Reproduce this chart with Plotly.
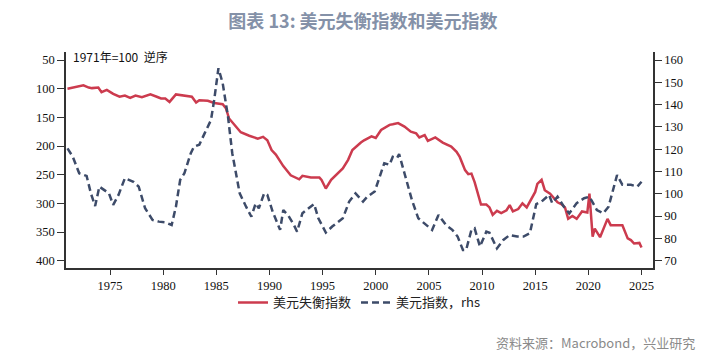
import plotly.graph_objects as go

red_years = [1971.0, 1971.5, 1972.0, 1972.5, 1973.0, 1973.3, 1973.9, 1974.2, 1974.7, 1975.3, 1975.9,
             1976.4, 1976.9, 1977.4, 1978.0, 1978.8, 1979.4, 1979.8, 1980.2, 1980.6, 1981.2, 1982.1,
             1982.7, 1983.1, 1983.4, 1984.2, 1984.8, 1985.6, 1985.9, 1986.2, 1986.7, 1987.3, 1988.1,
             1988.9, 1989.4, 1989.8, 1990.2, 1990.6, 1991.3, 1992.0, 1992.8, 1993.1, 1993.9, 1994.7,
             1994.9, 1995.3, 1995.8, 1996.4, 1996.9, 1997.4, 1997.8, 1998.6, 1998.9, 1999.6, 2000.0,
             2000.5, 2001.0, 2001.3, 2001.6, 2002.1, 2002.7, 2003.3, 2003.8, 2004.1, 2004.6, 2004.9,
             2005.6, 2006.3, 2007.1, 2007.6, 2007.9, 2008.4, 2008.7, 2009.0, 2009.3, 2009.9, 2010.4,
             2010.7, 2011.0, 2011.4, 2011.8, 2012.3, 2012.6, 2012.9, 2013.4, 2013.8, 2014.2, 2014.7,
             2015.0, 2015.2, 2015.6, 2015.9, 2016.4, 2017.1, 2017.5, 2017.8, 2018.1, 2018.5, 2018.9,
             2019.4, 2019.9, 2020.1, 2020.4, 2020.6, 2021.1, 2021.8, 2022.1, 2022.6, 2023.2, 2023.7,
             2024.0, 2024.3, 2024.8, 2025.0]
red_values = [100, 98, 97, 94, 98, 99, 98, 106, 102, 109, 114,
              112, 116, 112, 115, 110, 114, 117, 117, 123, 110, 113,
              114, 124, 120, 121, 125, 127, 134, 152, 163, 176, 182,
              187, 184, 190, 207, 215, 235, 251, 258, 252, 255, 255,
              259, 274, 259, 248, 239, 224, 207, 194, 190, 183, 186,
              172, 166, 163, 162, 160, 166, 175, 178, 185, 181, 191,
              185, 194, 201, 210, 219, 242, 249, 248, 263, 302, 302,
              307, 320, 313, 317, 312, 303, 314, 310, 300, 307, 290,
              280, 266, 259, 277, 283, 298, 302, 307, 327, 322, 327,
              314, 316, 283, 358, 344, 359, 327, 338, 338, 338, 361,
              364, 370, 369, 377]

blue_years = [1971.0, 1971.5, 1972.1, 1972.8, 1973.2, 1973.6, 1974.0, 1974.5, 1974.9, 1975.3, 1975.8,
              1976.4, 1977.2, 1977.7, 1978.3, 1979.0, 1979.6, 1980.2, 1980.8, 1981.2, 1981.6, 1982.0,
              1982.6, 1982.9, 1983.4, 1983.9, 1984.5, 1984.8, 1985.2, 1985.6, 1986.1, 1986.5, 1987.2,
              1987.8, 1988.3, 1988.7, 1989.0, 1989.5, 1989.8, 1990.3, 1990.7, 1991.0, 1991.3, 1991.8,
              1992.3, 1992.6, 1993.1, 1993.5, 1994.2, 1994.6, 1995.3, 1995.9, 1996.9, 1997.5, 1998.1,
              1998.8, 1999.2, 1999.9, 2000.3, 2000.8, 2001.3, 2001.6, 2002.0, 2002.2, 2002.7, 2003.4,
              2004.0, 2004.6, 2005.3, 2005.9, 2006.6, 2007.2, 2007.7, 2008.2, 2008.5, 2009.0, 2009.3,
              2009.8, 2010.4, 2010.7, 2011.4, 2012.0, 2012.6, 2013.3, 2013.9, 2014.5, 2015.1, 2015.6,
              2016.3, 2016.6, 2017.1, 2017.7, 2018.2, 2018.9, 2019.6, 2020.1, 2020.8, 2021.4, 2021.9,
              2022.7, 2023.2, 2024.0, 2024.6, 2025.0]
blue_values = [120.4, 116.6, 109.2, 108.0, 100.2, 94.5, 103.2, 101.7, 100.2, 95.0, 99.5,
               107.0, 105.4, 103.2, 93.5, 88.3, 87.5, 87.2, 86.0, 94.2, 106.2, 109.2,
               118.2, 121.1, 122.0, 127.1, 133.1, 142.1, 156.3, 149.6, 134.6, 118.2, 100.2,
               94.2, 89.7, 95.7, 93.5, 100.2, 99.5, 92.0, 86.8, 83.8, 92.7, 90.0,
               86.0, 83.0, 91.3, 92.7, 95.4, 89.0, 82.6, 85.3, 89.0, 96.5, 100.2,
               96.5, 98.7, 101.0, 107.0, 113.7, 113.0, 116.6, 116.0, 117.8, 109.2, 97.2,
               89.0, 86.8, 83.8, 90.5, 86.0, 83.8, 80.8, 74.8, 74.8, 83.8, 84.5,
               76.3, 83.0, 82.5, 75.5, 79.3, 81.5, 80.8, 80.8, 82.3, 95.4, 96.5,
               99.5, 95.8, 98.7, 94.2, 91.2, 95.8, 98.0, 98.7, 92.7, 91.2, 94.2,
               108.4, 104.0, 104.0, 103.2, 105.4]

x_ticks = [1975, 1980, 1985, 1990, 1995, 2000, 2005, 2010, 2015, 2020, 2025]
left_ticks = [50, 100, 150, 200, 250, 300, 350, 400]
right_ticks = [70, 80, 90, 100, 110, 120, 130, 140, 150, 160]

RED = "#CC3B4E"
BLUE = "#3D4B69"
AXIS = "#333333"
TICKFONT = dict(family="Liberation Serif", size=12.5, color="#111111")

fig = go.Figure()
fig.add_trace(go.Scatter(x=red_years, y=red_values, mode="lines", name="美元失衡指数",
                         line=dict(color=RED, width=2.5), yaxis="y"))
fig.add_trace(go.Scatter(x=blue_years, y=blue_values, mode="lines", name="美元指数，rhs",
                         line=dict(color=BLUE, width=2.5, dash="7px,4px"), yaxis="y2"))

fig.update_layout(
    width=710, height=348,
    margin=dict(l=58, r=65, t=44, b=88),
    paper_bgcolor="white", plot_bgcolor="white",
    showlegend=True,
    title=dict(text="<b>图表 13: 美元失衡指数和美元指数</b>", x=0.5, xanchor="center",
               y=1 - 14 / 348, yanchor="middle",
               font=dict(family="Noto Sans CJK SC", size=18, color="#8491A8")),
    xaxis=dict(range=[1970.86, 2026.08], tickvals=x_ticks, ticks="outside", ticklen=5,
               tickcolor=AXIS, showline=True, linecolor=AXIS, linewidth=1.5, showgrid=False,
               zeroline=False, tickfont=TICKFONT),
    yaxis=dict(range=[412.7, 36], tickvals=left_ticks, ticks="outside", ticklen=7,
               tickcolor=AXIS, showline=True, linecolor=AXIS, linewidth=1.5, showgrid=False,
               zeroline=False, tickfont=TICKFONT),
    yaxis2=dict(range=[66.7, 163.6], tickvals=right_ticks, ticks="outside", ticklen=7,
                tickcolor=AXIS, showline=True, linecolor=AXIS, linewidth=1.5, showgrid=False,
                zeroline=False, overlaying="y", side="right", tickfont=TICKFONT),
    legend=dict(orientation="h", x=0.5, xanchor="center", y=-0.09, yanchor="top",
                font=dict(family="Noto Sans CJK SC", size=13, color="#222222"),
                bgcolor="rgba(0,0,0,0)", itemwidth=30, tracegroupgap=0),
    annotations=[
        dict(text="1971年=100  逆序", xref="paper", yref="paper", x=0.008, y=0.977,
             xanchor="left", yanchor="middle", showarrow=False,
             font=dict(family="Noto Sans CJK SC", size=12, color="#111111")),
        dict(text="资料来源：Macrobond，兴业研究", xref="paper", yref="paper", x=1.0, y=-0.347,
             xanchor="right", yanchor="middle", showarrow=False, xshift=44,
             font=dict(family="Noto Sans CJK SC", size=13, color="#8A8A8A")),
    ],
)

fig.write_html("out.html")
